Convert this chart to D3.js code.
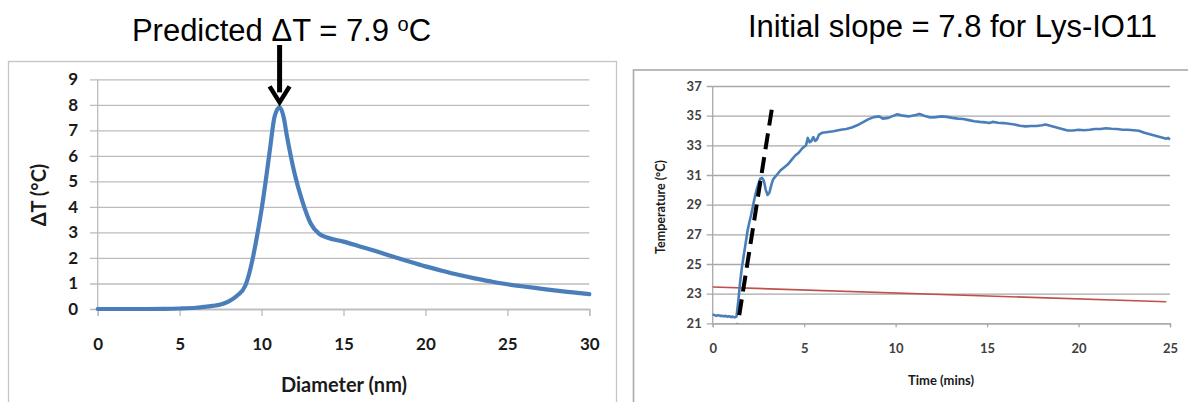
<!DOCTYPE html>
<html>
<head>
<meta charset="utf-8">
<script src="https://cdn.jsdelivr.net/npm/d3@7"></script>
<style>
  body { margin: 0; background: #fff; }
  svg { display: block; }
  text { font-family: Lato, "Open Sans", sans-serif; }
  .title { font-family: "Liberation Sans", Arial, sans-serif; fill: #000; }
</style>
</head>
<body>
<svg id="chart" width="1188" height="402"></svg>
<script>
// Left panel: predicted temperature rise vs particle diameter
const diameterNm = [0, 1, 2, 3, 4, 5, 6, 6.5, 7, 7.5, 8, 8.5, 9, 9.25, 9.5, 9.75, 10, 10.25, 10.5, 10.8, 11.1, 11.4, 11.5, 11.75, 12, 12.5, 13, 13.5, 14, 15, 16, 17, 18, 19, 20, 21, 22, 23, 24, 25, 26, 27, 28, 29, 30];
const deltaT =     [0, 0, 0, 0, 0.005, 0.02, 0.05, 0.08, 0.12, 0.18, 0.3, 0.52, 0.9, 1.4, 2.1, 2.95, 3.9, 5.0, 6.2, 7.55, 7.9, 7.35, 6.95, 6.1, 5.35, 4.2, 3.35, 2.95, 2.8, 2.64, 2.45, 2.26, 2.06, 1.86, 1.67, 1.5, 1.34, 1.2, 1.08, 0.97, 0.88, 0.8, 0.72, 0.65, 0.58];
const diameterTicks = [0, 5, 10, 15, 20, 25, 30];
const deltaTTicks = [0, 1, 2, 3, 4, 5, 6, 7, 8, 9];
const predictedPeak = 7.9;
const peakDiameter = 11.1;

// Right panel: measured heating curve of Lys-IO11
const timeMin = [0, 0.1, 0.2, 0.3, 0.4, 0.5, 0.6, 0.7, 0.8, 0.9, 1.0, 1.1, 1.2, 1.3, 1.4, 1.5, 1.6, 1.7, 1.8, 1.9, 2.0, 2.1, 2.2, 2.3, 2.4, 2.5, 2.6, 2.7, 2.8, 2.9, 3.0, 3.1, 3.2, 3.3, 3.5, 3.7, 3.9, 4.1, 4.3, 4.5, 4.7, 4.9, 5.0, 5.1, 5.2, 5.3, 5.4, 5.5, 5.6, 5.7, 5.8, 6.0, 6.3, 6.6, 7.0, 7.3, 7.6, 7.9, 8.2, 8.5, 8.8, 9.1, 9.3, 9.6, 9.9, 10.1, 10.4, 10.7, 10.9, 11.1, 11.3, 11.6, 11.9, 12.2, 12.5, 12.8, 13.1, 13.4, 13.7, 14.0, 14.3, 14.6, 14.9, 15.1, 15.3, 15.6, 15.9, 16.2, 16.5, 16.8, 17.1, 17.4, 17.7, 18.0, 18.2, 18.5, 18.8, 19.1, 19.4, 19.7, 20.0, 20.3, 20.6, 20.9, 21.2, 21.5, 21.8, 22.1, 22.4, 22.7, 23.0, 23.3, 23.6, 23.9, 24.2, 24.5, 24.8, 24.9, 25.0];
const tempC =   [21.6, 21.55, 21.5, 21.55, 21.5, 21.5, 21.48, 21.5, 21.45, 21.47, 21.42, 21.45, 21.4, 21.45, 22.5, 23.8, 24.8, 25.6, 26.4, 27.2, 27.8, 28.3, 28.9, 29.5, 30.0, 30.4, 30.75, 30.8, 30.6, 30.0, 29.65, 29.8, 30.3, 30.7, 31.0, 31.3, 31.5, 31.7, 32.0, 32.3, 32.5, 32.8, 32.9, 33.0, 33.5, 33.2, 33.3, 33.55, 33.3, 33.4, 33.7, 33.85, 33.9, 33.95, 34.05, 34.1, 34.2, 34.35, 34.55, 34.75, 34.9, 34.95, 34.8, 34.85, 35.0, 35.1, 35.0, 34.95, 35.0, 35.05, 35.12, 34.98, 34.88, 34.9, 34.95, 34.92, 34.85, 34.8, 34.78, 34.7, 34.62, 34.58, 34.55, 34.5, 34.58, 34.52, 34.5, 34.45, 34.4, 34.32, 34.28, 34.3, 34.3, 34.35, 34.4, 34.3, 34.2, 34.1, 34.0, 34.0, 34.05, 34.02, 34.05, 34.1, 34.1, 34.15, 34.12, 34.1, 34.05, 34.05, 34.02, 33.98, 33.85, 33.75, 33.65, 33.55, 33.45, 33.5, 33.4];
const ambientTime = [0, 24.8];
const ambientTemp = [23.45, 22.45];
const initialSlope = 7.8;          // °C per minute
const slopeStartTime = 1.38;
const slopeTemps = [21, 35.4];
const timeTicks = [0, 5, 10, 15, 20, 25];
const tempTicks = [21, 23, 25, 27, 29, 31, 33, 35, 37];

const BLUE = "#4a7ebb", RED = "#c0504d", GRID = "#bcbcbc";
const svg = d3.select("#chart");
svg.append("rect").attr("width", 1188).attr("height", 402).attr("fill", "#fff");

// ---------- left panel ----------
const L = svg.append("g");
L.append("rect").attr("x", 8.5).attr("y", 61.5).attr("width", 608).attr("height", 420)
  .attr("fill", "none").attr("stroke", "#c4c4c4").attr("stroke-width", 1.3);

const xL = d3.scaleLinear().domain([0, 30]).range([97.7, 589.3]);
const yL = d3.scaleLinear().domain([0, 9]).range([309, 79.3]);

const yAxL = L.append("g").attr("transform", "translate(90,0)")
  .call(d3.axisLeft(yL).tickValues(deltaTTicks).tickSize(-(589.3 - 90)).tickPadding(12).tickFormat(d3.format("d")));
yAxL.select(".domain").remove();
yAxL.selectAll("line").attr("stroke", GRID).attr("stroke-width", 1.3);
yAxL.selectAll("text").attr("font-size", 17).attr("font-weight", 700).attr("fill", "#1a1a1a");

L.append("line").attr("x1", xL(0)).attr("x2", xL(0)).attr("y1", yL(9)).attr("y2", yL(0))
  .attr("stroke", GRID).attr("stroke-width", 1.3);

const xAxL = L.append("g").attr("transform", `translate(0,${yL(0)})`)
  .call(d3.axisBottom(xL).tickValues(diameterTicks).tickSize(7).tickPadding(22));
xAxL.select(".domain").attr("stroke", GRID).attr("stroke-width", 1.3);
xAxL.selectAll("line").attr("stroke", GRID).attr("stroke-width", 1.3);
xAxL.selectAll("text").attr("font-size", 17).attr("font-weight", 700).attr("fill", "#1a1a1a");

L.append("path")
  .datum(diameterNm.map((d, i) => [d, deltaT[i]]))
  .attr("fill", "none").attr("stroke", BLUE).attr("stroke-width", 4.2)
  .attr("stroke-linejoin", "round").attr("stroke-linecap", "round")
  .attr("d", d3.line().x(d => xL(d[0])).y(d => yL(d[1])).curve(d3.curveMonotoneX));

L.append("text").attr("transform", "translate(46,195) rotate(-90)")
  .attr("text-anchor", "middle").attr("font-size", 20).attr("font-weight", 700).attr("fill", "#1a1a1a")
  .text("ΔT (°C)");
L.append("text").attr("x", 344).attr("y", 392)
  .attr("text-anchor", "middle").attr("font-size", 20).attr("font-weight", 700).attr("fill", "#1a1a1a")
  .text("Diameter (nm)");

// title with arrow pointing at the predicted peak
const t1 = svg.append("text").attr("class", "title").attr("x", 281.5).attr("y", 41)
  .attr("text-anchor", "middle").attr("font-size", 31);
t1.append("tspan").text(`Predicted ΔT = ${predictedPeak} `);
t1.append("tspan").attr("font-size", 20).attr("dy", -10).text("o");
t1.append("tspan").attr("dy", 10).text("C");

const ax = xL(peakDiameter);
const tipY = yL(predictedPeak) - 5;
svg.append("line").attr("x1", ax).attr("x2", ax).attr("y1", 45).attr("y2", tipY - 10)
  .attr("stroke", "#000").attr("stroke-width", 5);
svg.append("path")
  .attr("d", `M${ax - 10},${tipY - 16} L${ax},${tipY} L${ax + 10},${tipY - 16}`)
  .attr("fill", "none").attr("stroke", "#000").attr("stroke-width", 4.5).attr("stroke-linejoin", "miter");

// ---------- right panel ----------
const R = svg.append("g");
R.append("rect").attr("x", 633.5).attr("y", 70).attr("width", 620).attr("height", 420)
  .attr("fill", "none").attr("stroke", "#a9a9a9").attr("stroke-width", 1.6);

const xR = d3.scaleLinear().domain([0, 25]).range([712.7, 1170]);
const yR = d3.scaleLinear().domain([21, 37]).range([323.3, 86]);

const yAxR = R.append("g").attr("transform", "translate(706.7,0)")
  .call(d3.axisLeft(yR).tickValues(tempTicks).tickSize(-(1170 - 706.7)).tickPadding(5));
yAxR.select(".domain").remove();
yAxR.selectAll("line").attr("stroke", "#a8a8a8").attr("stroke-width", 1.3);
yAxR.selectAll("text").attr("font-size", 13).attr("font-weight", 700).attr("fill", "#404040");

R.append("line").attr("x1", xR(0)).attr("x2", xR(0)).attr("y1", yR(37)).attr("y2", yR(21))
  .attr("stroke", "#a8a8a8").attr("stroke-width", 1.3);

const xAxR = R.append("g").attr("transform", `translate(0,${yR(21)})`)
  .call(d3.axisBottom(xR).tickValues(timeTicks).tickSize(4).tickPadding(16));
xAxR.select(".domain").attr("stroke", "#a8a8a8").attr("stroke-width", 1.3);
xAxR.selectAll("line").attr("stroke", "#a8a8a8").attr("stroke-width", 1.3);
xAxR.selectAll("text").attr("font-size", 13).attr("font-weight", 700).attr("fill", "#404040");

R.append("path")
  .datum(ambientTime.map((d, i) => [d, ambientTemp[i]]))
  .attr("fill", "none").attr("stroke", RED).attr("stroke-width", 1.6)
  .attr("d", d3.line().x(d => xR(d[0])).y(d => yR(d[1])));

R.append("path")
  .datum(timeMin.map((d, i) => [d, tempC[i]]))
  .attr("fill", "none").attr("stroke", BLUE).attr("stroke-width", 2.6)
  .attr("stroke-linejoin", "round")
  .attr("d", d3.line().x(d => xR(d[0])).y(d => yR(d[1])));

// initial-slope tangent, drawn from its top end so the dashes end cleanly
const slopePts = slopeTemps.map(T => [slopeStartTime + (T - slopeTemps[0]) / initialSlope, T]).reverse();
R.append("path").datum(slopePts)
  .attr("fill", "none").attr("stroke", "#000").attr("stroke-width", 4)
  .attr("stroke-dasharray", "16,8")
  .attr("d", d3.line().x(d => xR(d[0])).y(d => yR(d[1])));

R.append("text").attr("transform", "translate(665,207) rotate(-90)")
  .attr("text-anchor", "middle").attr("font-size", 12.5).attr("font-weight", 700).attr("fill", "#1a1a1a")
  .text("Temperature (°C)");
R.append("text").attr("x", 941).attr("y", 385)
  .attr("text-anchor", "middle").attr("font-size", 13).attr("font-weight", 700).attr("fill", "#1a1a1a")
  .text("Time (mins)");

svg.append("text").attr("class", "title").attr("x", 952.5).attr("y", 37)
  .attr("text-anchor", "middle").attr("font-size", 31)
  .text(`Initial slope = ${initialSlope} for Lys-IO11`);
</script>
</body>
</html>
